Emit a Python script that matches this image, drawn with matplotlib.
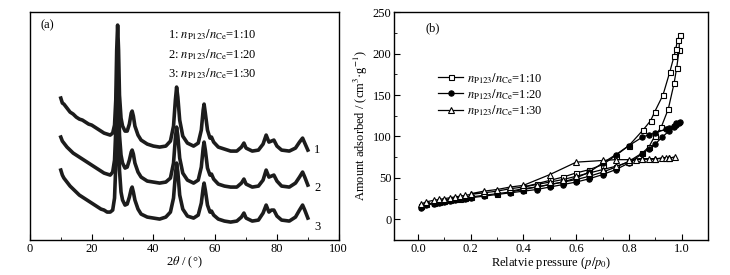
import matplotlib
matplotlib.use("Agg")
import matplotlib.pyplot as plt
from matplotlib.ticker import MultipleLocator

plt.rcParams['font.family'] = ['Liberation Serif', 'DejaVu Serif']
plt.rcParams['mathtext.fontset'] = 'stix'

# (a) XRD patterns, offset curves (intensity in a.u.)
two_theta = [10, 10.5, 11, 12, 13, 14, 15, 16, 17, 18, 19, 20, 21, 22, 23, 24, 25, 26,
             26.8, 27.4, 27.8, 28.1, 28.4, 28.7, 29.0, 29.5, 30, 30.8, 31.5, 32.2, 32.8,
             33.1, 33.5, 34, 35, 36, 38, 40, 42, 44, 45.5, 46.5, 47.1, 47.5, 47.9, 48.5,
             49.5, 51, 53, 54.5, 55.5, 56.1, 56.4, 56.8, 57.5, 58.3, 58.8, 59.5, 61, 63,
             65, 67, 68.5, 69.3, 70, 72, 74, 75.5, 76.5, 77.4, 78.2, 79, 80, 81.5, 84, 86,
             87.3, 88.3, 89, 90]
xrd_1 = [142, 137, 136, 132, 128, 126, 123, 121, 120, 118, 116, 115, 113, 111, 109, 107, 106, 105,
         107, 115, 140, 190, 215, 190, 145, 122, 114, 109, 109, 116, 127,
         129, 124, 114, 105, 100, 96, 94, 93, 94, 99, 114, 140, 153, 143, 120,
         104, 97, 94, 97, 110, 130, 136, 127, 110, 102, 103, 98, 93, 91,
         89, 89, 93, 97, 92, 89, 90, 96, 105, 98, 99, 100, 94, 90, 89, 92,
         98, 102, 97, 90]
xrd_2 = [103, 99, 97, 93, 90, 87, 85, 83, 81, 79, 77, 75, 73, 71, 69, 67, 66, 65,
         68, 80, 110, 150, 178, 150, 105, 85, 77, 72, 73, 80, 88,
         90, 86, 77, 68, 63, 59, 58, 57, 58, 62, 77, 102, 113, 104, 82,
         67, 60, 57, 60, 73, 92, 98, 90, 72, 65, 66, 61, 56, 54,
         53, 53, 57, 61, 56, 53, 54, 60, 70, 63, 64, 65, 59, 54, 53, 57,
         63, 68, 63, 55]
xrd_3 = [70, 65, 62, 58, 54, 51, 48, 45, 43, 41, 39, 37, 35, 33, 31, 30, 28, 28,
         30, 42, 75, 115, 140, 115, 70, 48, 40, 35, 36, 43, 51,
         53, 48, 40, 31, 26, 23, 22, 21, 23, 28, 42, 65, 77, 68, 45,
         31, 24, 22, 25, 37, 52, 57, 50, 35, 28, 29, 25, 21, 19,
         18, 19, 23, 27, 22, 19, 20, 27, 35, 28, 30, 30, 24, 20, 19, 23,
         30, 35, 30, 22]
xrd_labels = ["1", "2", "3"]
xrd_label_y = [90, 52, 13]
legend_a = [r"1: $n_{\mathrm{P123}}/n_{\mathrm{Ce}}$=1:10",
            r"2: $n_{\mathrm{P123}}/n_{\mathrm{Ce}}$=1:20",
            r"3: $n_{\mathrm{P123}}/n_{\mathrm{Ce}}$=1:30"]

# (b) N2 isotherms: adsorption then desorption branch
p_10 = [0.01, 0.03, 0.06, 0.08, 0.1, 0.12, 0.14, 0.16, 0.18, 0.2, 0.25, 0.3, 0.35, 0.4, 0.45,
        0.5, 0.55, 0.6, 0.65, 0.7, 0.75, 0.8, 0.85, 0.875, 0.897, 0.922, 0.949, 0.971, 0.981,
        0.99, 0.992, 0.984, 0.977, 0.971, 0.955, 0.929, 0.898, 0.882, 0.854, 0.8, 0.75, 0.7,
        0.65, 0.6, 0.55, 0.5, 0.45, 0.4]
v_10 = [16, 18, 20, 21, 22, 23, 24, 25, 26, 27, 29, 31, 33, 36, 39,
        42, 45, 48, 52, 57, 63, 70, 80, 87, 100, 111, 133, 164, 183,
        204, 222, 216, 205, 197, 178, 150, 130, 119, 108, 89, 77, 66,
        60, 56, 51, 47, 43, 39]
p_20 = [0.01, 0.03, 0.06, 0.08, 0.1, 0.12, 0.14, 0.16, 0.18, 0.2, 0.25, 0.3, 0.35, 0.4, 0.45,
        0.5, 0.55, 0.6, 0.65, 0.7, 0.75, 0.8, 0.85, 0.875, 0.9, 0.925, 0.95, 0.97, 0.98, 0.99,
        0.995, 0.98, 0.97, 0.95, 0.94, 0.9, 0.875, 0.85, 0.8, 0.75, 0.7, 0.65, 0.6, 0.55, 0.5,
        0.45, 0.4, 0.35]
v_20 = [14, 17, 19, 20, 21, 22, 23, 24, 25, 26, 28, 30, 32, 34, 36,
        39, 42, 45, 49, 54, 60, 68, 79, 85, 91, 99, 106, 111, 114, 116,
        117, 116, 113, 110, 109, 104, 102, 99, 89, 78, 68, 57, 50, 45, 42,
        39, 37, 34]
p_30 = [0.01, 0.03, 0.06, 0.08, 0.1, 0.12, 0.14, 0.16, 0.18, 0.2, 0.25, 0.3, 0.35, 0.4, 0.45,
        0.5, 0.55, 0.6, 0.65, 0.7, 0.75, 0.8, 0.825, 0.85, 0.875, 0.9, 0.925, 0.94, 0.95, 0.975,
        0.95, 0.9, 0.85, 0.8, 0.75, 0.7, 0.6, 0.5, 0.4, 0.35, 0.3, 0.25, 0.2]
v_30 = [18, 21, 23, 24, 25, 26, 27, 28, 29, 30, 32, 34, 37, 39, 42,
        45, 48, 52, 56, 60, 64, 69, 72, 73, 73, 73, 74, 74, 74, 75,
        74, 73, 73, 72, 72, 71, 69, 54, 41, 39, 36, 34, 31]
legend_b = [r"$n_{\mathrm{P123}}/n_{\mathrm{Ce}}$=1:10",
            r"$n_{\mathrm{P123}}/n_{\mathrm{Ce}}$=1:20",
            r"$n_{\mathrm{P123}}/n_{\mathrm{Ce}}$=1:30"]

fs = 9
fig = plt.figure(figsize=(7.3, 2.75), dpi=100)
ax1 = fig.add_axes([0.041, 0.127, 0.423, 0.829])
ax2 = fig.add_axes([0.540, 0.127, 0.430, 0.829])

# ---- panel (a)
for ys in (xrd_1, xrd_2, xrd_3):
    ax1.plot(two_theta, ys, color='#1c1c1c', lw=2.6, solid_joinstyle='round')
for lab, yy in zip(xrd_labels, xrd_label_y):
    ax1.text(92, yy, lab, fontsize=fs, va='center', ha='left')
for i, t in enumerate(legend_a):
    ax1.text(0.447, 0.90 - i * 0.085, t, transform=ax1.transAxes, fontsize=fs, va='center')
ax1.text(0.035, 0.94, "(a)", transform=ax1.transAxes, fontsize=fs, va='center')
ax1.set_xlim(0, 100)
ax1.set_ylim(0, 228)
ax1.set_yticks([])
ax1.xaxis.set_major_locator(MultipleLocator(20))
ax1.xaxis.set_minor_locator(MultipleLocator(10))
ax1.tick_params(axis='x', which='both', direction='in', top=False, labelsize=fs, pad=2)
ax1.tick_params(axis='x', which='major', length=4)
ax1.tick_params(axis='x', which='minor', length=2.5)
ax1.set_xlabel(r"2$\theta$ / (°)", fontsize=fs, labelpad=0)

# ---- panel (b)
ax2.plot(p_10, v_10, '-s', color='black', mfc='white', mec='black', ms=3.6, mew=0.8, lw=0.9, label=legend_b[0])
ax2.plot(p_20, v_20, '-o', color='black', mfc='black', mec='black', ms=3.8, mew=0.8, lw=0.9, label=legend_b[1])
ax2.plot(p_30, v_30, '-^', color='black', mfc='white', mec='black', ms=3.8, mew=0.8, lw=0.9, label=legend_b[2])
ax2.legend(loc='upper left', bbox_to_anchor=(0.12, 0.77), frameon=False, fontsize=fs,
           handlelength=2.0, handletextpad=0.3, labelspacing=0.1, borderpad=0)
ax2.text(0.1, 0.93, "(b)", transform=ax2.transAxes, fontsize=fs, va='center')
ax2.set_xlim(-0.09, 1.1)
ax2.set_ylim(-25, 250)
ax2.xaxis.set_minor_locator(MultipleLocator(0.1))
ax2.yaxis.set_major_locator(MultipleLocator(50))
ax2.yaxis.set_minor_locator(MultipleLocator(25))
ax2.set_xticks([0, 0.2, 0.4, 0.6, 0.8, 1.0])
ax2.set_xticklabels(["0.0", "0.2", "0.4", "0.6", "0.8", "1.0"])
ax2.tick_params(which='both', direction='in', top=False, right=False, labelsize=fs, pad=2)
ax2.tick_params(which='major', length=4)
ax2.tick_params(which='minor', length=2.5)
ax2.set_xlabel(r"Relatvie pressure ($p/p_0$)", fontsize=fs, labelpad=0)
ax2.set_ylabel(r"Amount adsorbed / (cm$^3$·g$^{-1}$)", fontsize=fs, labelpad=2)

for ax in (ax1, ax2):
    for s in ax.spines.values():
        s.set_linewidth(1.0)

fig.savefig("out.png", dpi=100)
